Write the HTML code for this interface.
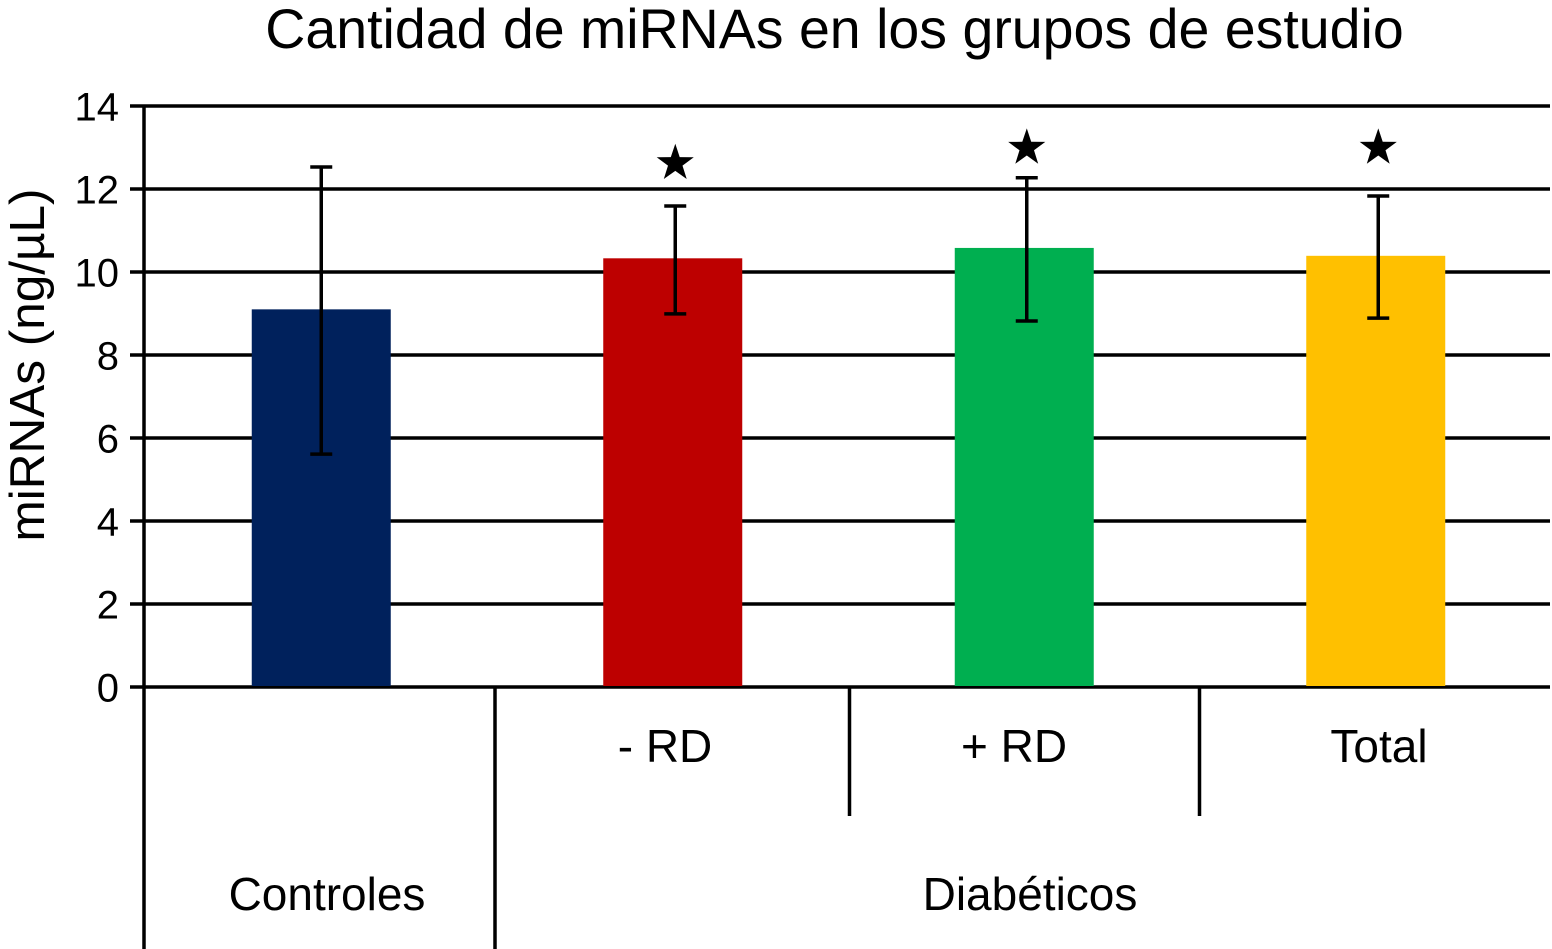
<!DOCTYPE html>
<html lang="es">
<head>
<meta charset="utf-8">
<title>Cantidad de miRNAs en los grupos de estudio</title>
<style>
html,body{margin:0;padding:0;background:#fff;width:1552px;height:949px;overflow:hidden}
svg{display:block;font-family:"Liberation Sans",sans-serif}
</style>
</head>
<body>
<svg id="chart" xmlns="http://www.w3.org/2000/svg" width="1552" height="949" viewBox="0 0 1552 949">
<text x="834.5" y="48" font-size="55.5" text-anchor="middle" fill="#000">Cantidad de miRNAs en los grupos de estudio</text>
<text transform="translate(44,365) rotate(-90)" font-size="49.5" text-anchor="middle" fill="#000">miRNAs (ng/µL)</text>
</svg>
<script>
const categories = ['Controles', '- RD', '+ RD', 'Total'];
const groupLabels = ['Controles', 'Diabéticos'];
const values = [9.1, 10.33, 10.58, 10.39];
const errorHigh = [12.53, 11.59, 12.27, 11.83];
const errorLow = [5.61, 8.99, 8.82, 8.89];
const significant = [false, true, true, true];
const starValues = [null, 12.62, 12.99, 12.99];
const tickLabels = [0, 2, 4, 6, 8, 10, 12, 14];
const barColors = ['#00215c', '#bd0000', '#00af50', '#ffc000'];

const svg = document.getElementById('chart');
const NS = 'http://www.w3.org/2000/svg';
const plotLeft = 144, plotRight = 1550, plotBottom = 687, plotTop = 106;
const yMax = 14;
const bandWidth = (plotRight - plotLeft) / categories.length;
const barWidth = 139;

function yScale(v) { return plotBottom - (v / yMax) * (plotBottom - plotTop); }
function xCenter(i) { return plotLeft + bandWidth * (i + 0.5) + 1.5; }
function errX(i) { return xCenter(i) + (i > 0 ? 2.5 : 0); }

function make(tag, attrs) {
  const el = document.createElementNS(NS, tag);
  for (const k in attrs) el.setAttribute(k, attrs[k]);
  svg.appendChild(el);
  return el;
}
function rule(x1, y1, x2, y2, w) {
  return make('line', { x1: x1, y1: y1, x2: x2, y2: y2, stroke: '#000', 'stroke-width': w });
}

// gridlines, ticks and tick labels
tickLabels.forEach(function (t) {
  const y = yScale(t);
  const g = rule(130, y, plotRight, y, 3.5);
  
  
  const lab = make('text', { x: 119, y: y + 14.5, 'font-size': 40, 'text-anchor': 'end', fill: '#000' });
  lab.textContent = t;
  
  
});

// y axis
const yAxis = rule(plotLeft, plotTop, plotLeft, 949, 3.5);



// bars
values.forEach(function (v, i) {
  const b = make('rect', {
    x: xCenter(i) - barWidth / 2, y: yScale(v),
    width: barWidth, height: plotBottom - yScale(v) - 1, fill: barColors[i]
  });
  
  
});

// error bars
values.forEach(function (v, i) {
  const x = errX(i);
  const hi = yScale(errorHigh[i]), lo = yScale(errorLow[i]);
  const s = rule(x, hi, x, lo, 3.5);
  
  
  const c1 = rule(x - 11, hi, x + 11, hi, 3.5);
  
  
  const c2 = rule(x - 11, lo, x + 11, lo, 3.5);
  
  
});

// significance stars
significant.forEach(function (sig, i) {
  if (!sig) return;
  const cx = errX(i), cy = yScale(starValues[i]);
  const pts = [];
  for (let k = 0; k < 10; k++) {
    const r = k % 2 === 0 ? 19.5 : 7.6;
    const a = -Math.PI / 2 + k * Math.PI / 5;
    pts.push((cx + r * Math.cos(a)).toFixed(1) + ',' + (cy + r * Math.sin(a)).toFixed(1));
  }
  const st = make('polygon', { points: pts.join(' '), fill: '#000' });
  
  
});

// category table dividers
const div0 = rule(495, plotBottom, 495, 949, 3.5);


const div1 = rule(849.5, plotBottom, 849.5, 816, 3.5);


const div2 = rule(1199.5, plotBottom, 1199.5, 816, 3.5);



// category labels (first category is labelled on the group row)
const catX = [665, 1014, 1379];
categories.slice(1).forEach(function (c, i) {
  const t = make('text', { x: catX[i], y: 762, 'font-size': 46, 'text-anchor': 'middle', fill: '#000' });
  t.textContent = c;
  
  
});

const groupX = [327, 1030];
groupLabels.forEach(function (c, i) {
  const t = make('text', { x: groupX[i], y: 910, 'font-size': 46, 'text-anchor': 'middle', fill: '#000' });
  t.textContent = c;
  
  
});
</script>
</body>
</html>
